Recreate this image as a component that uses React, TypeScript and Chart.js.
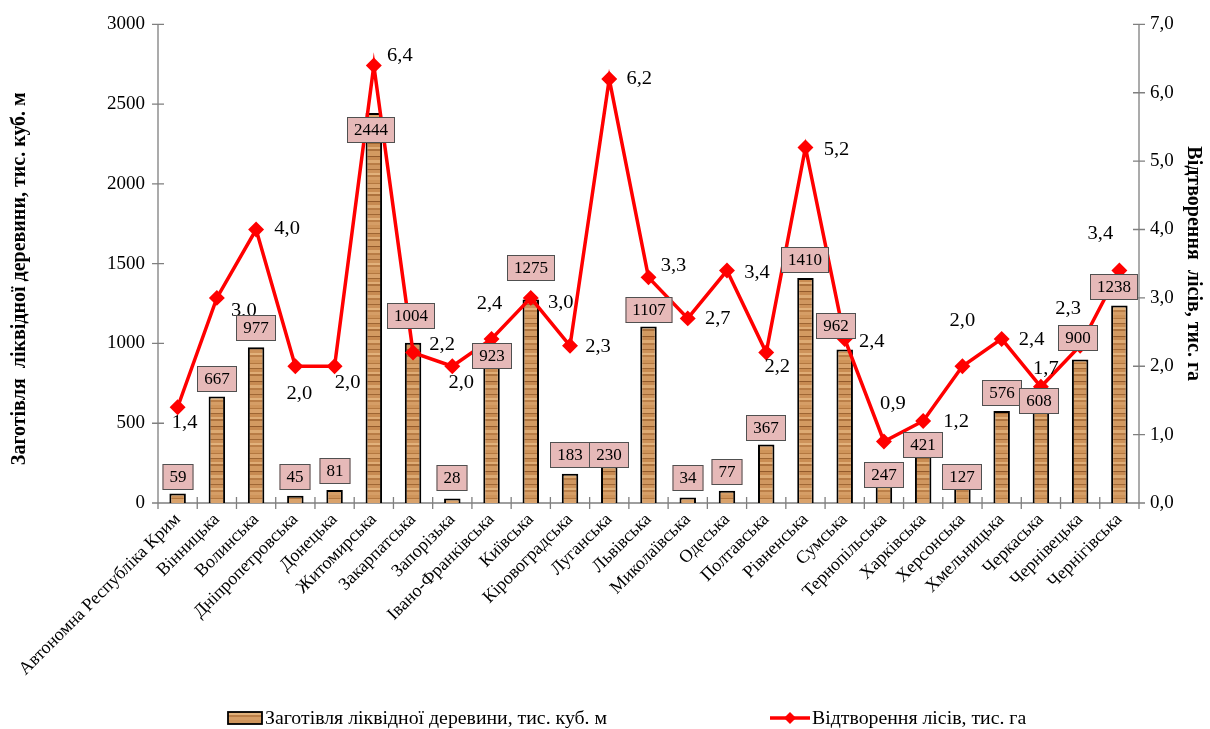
import React, { useEffect, useRef } from 'react';
import { Chart, registerables } from 'chart.js';

Chart.register(...registerables);

const categories = [
  'Автономна Республіка Крим', 'Вінницька', 'Волинська', 'Дніпропетровська', 'Донецька',
  'Житомирська', 'Закарпатська', 'Запорізька', 'Івано-Франківська', 'Київська',
  'Кіровоградська', 'Луганська', 'Львівська', 'Миколаївська', 'Одеська',
  'Полтавська', 'Рівненська', 'Сумська', 'Тернопільська', 'Харківська',
  'Херсонська', 'Хмельницька', 'Черкаська', 'Чернівецька', 'Чернігівська',
];

const harvest = [59, 667, 977, 45, 81, 2444, 1004, 28, 923, 1275, 183, 230, 1107, 34, 77, 367, 1410, 962, 247, 421, 127, 576, 608, 900, 1238];

const reforestation = [1.4, 3.0, 4.0, 2.0, 2.0, 6.4, 2.2, 2.0, 2.4, 3.0, 2.3, 6.2, 3.3, 2.7, 3.4, 2.2, 5.2, 2.4, 0.9, 1.2, 2.0, 2.4, 1.7, 2.3, 3.4];

const harvestLabel = 'Заготівля ліквідної деревини, тис. куб. м';
const reforestLabel = 'Відтворення лісів, тис. га';
const leftTitle = 'Заготівля  ліквідної деревини, тис. куб. м';
const rightTitle = 'Відтворення  лісів, тис. га';

// label placement (style only): offsets of the value labels from their marks
const lineLabelOffsets: [number, number][] = [
  [7, 16], [27, 13], [31, 0], [4, 28], [13, 17], [26, -9], [29, -8], [9, 17], [-2, -35], [30, 5],
  [28, 1], [30, 0], [25, -11], [30, 1], [30, 2], [11, 14], [31, 3], [27, 3], [9, -37], [33, 1],
  [0, -45], [30, 1], [5, -18], [-12, -37], [-19, -37],
];
const barLabelDx = [0, 0, 0, 0, 0, -3, -2, 0, 0, 0, 0, 0, 0, 0, 0, 0, 0, -9, 0, 0, 0, 0, -2, -2, -5];
const barLabelDy = [-17, -18, -19, -19, -19, 17, -27, -21, 0, -32, -19, -11, -16, -20, -19, -16, -18, -24, 11, 9, -6, -18, -5, -21, -18];

const woodBands: [string, number][] = [
  ['#cf945a', 3], ['#b3773f', 1], ['#d9a26b', 4], ['#9e6532', 1], ['#c98c52', 3], ['#e0ad76', 2],
  ['#ad723d', 2], ['#d39a61', 5], ['#935a2b', 1], ['#c78a51', 3], ['#ddaa73', 3], ['#b87c45', 2],
  ['#d09760', 4], ['#a06734', 1], ['#cd925a', 3], ['#e2b27c', 2], ['#bb7f48', 2], ['#d69e66', 3],
];

function makeWood(): CanvasPattern | string {
  const c = document.createElement('canvas');
  const total = woodBands.reduce((s, b) => s + b[1], 0);
  c.width = 4;
  c.height = total;
  const g = c.getContext('2d');
  if (!g) return '#c98c52';
  let y = 0;
  for (const [col, h] of woodBands) {
    g.fillStyle = col;
    g.fillRect(0, y, 4, h);
    y += h;
  }
  const p = g.createPattern(c, 'repeat');
  return p || '#c98c52';
}

const fmt1 = (v: number) => v.toFixed(1).replace('.', ',');
const SERIF = '"Liberation Serif", "Times New Roman", serif';

function stretchedText(ctx: CanvasRenderingContext2D, text: string, x: number, y: number, sx: number) {
  ctx.save();
  ctx.translate(x, y);
  ctx.scale(sx, 1);
  ctx.fillText(text, 0, 0);
  ctx.restore();
}

export default function App() {
  const ref = useRef<HTMLCanvasElement | null>(null);

  useEffect(() => {
    document.body.style.margin = '0';
    document.body.style.overflow = 'hidden';
    const canvas = ref.current;
    if (!canvas) return;
    const wood = makeWood();

    const axesPlugin = {
      id: 'axesCross',
      beforeDatasetsDraw(chart: any) {
        const { ctx, chartArea } = chart;
        const { left, right, top, bottom } = chartArea;
        const y = chart.scales.y;
        const y1 = chart.scales.y1;
        const x = chart.scales.x;
        ctx.save();
        ctx.strokeStyle = '#7f7f7f';
        ctx.lineWidth = 1.3;
        ctx.beginPath();
        ctx.moveTo(left, top); ctx.lineTo(left, bottom);
        ctx.moveTo(right, top); ctx.lineTo(right, bottom);
        ctx.moveTo(left, bottom); ctx.lineTo(right, bottom);
        y.ticks.forEach((_t: any, i: number) => {
          const py = y.getPixelForTick(i);
          ctx.moveTo(left - 6, py); ctx.lineTo(left + 6, py);
        });
        y1.ticks.forEach((_t: any, i: number) => {
          const py = y1.getPixelForTick(i);
          ctx.moveTo(right - 6, py); ctx.lineTo(right + 6, py);
        });
        const n = categories.length;
        const step = n > 1 ? x.getPixelForValue(1) - x.getPixelForValue(0) : right - left;
        for (let i = 0; i <= n; i++) {
          const px = x.getPixelForValue(0) - step / 2 + i * step;
          ctx.moveTo(px, bottom - 6); ctx.lineTo(px, bottom + 6);
        }
        ctx.stroke();
        ctx.restore();
      },
    };

    const labelsPlugin = {
      id: 'valueLabels',
      afterDatasetsDraw(chart: any) {
        const { ctx } = chart;
        const barMeta = chart.getDatasetMeta(0);
        const lineMeta = chart.getDatasetMeta(1);
        ctx.save();
        ctx.textAlign = 'center';
        ctx.textBaseline = 'middle';
        ctx.font = `19px ${SERIF}`;
        ctx.fillStyle = '#000';
        lineMeta.data.forEach((pt: any, i: number) => {
          const [dx, dy] = lineLabelOffsets[i];
          stretchedText(ctx, fmt1(reforestation[i]), pt.x + dx, pt.y + dy, 1.08);
        });
        ctx.font = `17px ${SERIF}`;
        barMeta.data.forEach((bar: any, i: number) => {
          const text = String(harvest[i]);
          const w = Math.round(ctx.measureText(text).width + 14);
          const h = 26;
          const cx = Math.round(bar.x + barLabelDx[i]);
          const cy = Math.round(bar.y + barLabelDy[i]);
          ctx.fillStyle = '#e6b9b8';
          ctx.fillRect(cx - w / 2, cy - h / 2, w, h);
          ctx.strokeStyle = '#505050';
          ctx.lineWidth = 1;
          ctx.strokeRect(cx - w / 2 + 0.5, cy - h / 2 + 0.5, w - 1, h - 1);
          ctx.fillStyle = '#000';
          ctx.fillText(text, cx, cy + 1);
        });
        ctx.restore();
      },
      afterDraw(chart: any) {
        const { ctx } = chart;
        ctx.save();
        const ly = 718;
        ctx.fillStyle = wood;
        ctx.fillRect(228, ly - 6, 34, 12);
        ctx.strokeStyle = '#000';
        ctx.lineWidth = 1.8;
        ctx.strokeRect(228, ly - 6, 34, 12);
        ctx.font = `18px ${SERIF}`;
        ctx.fillStyle = '#000';
        ctx.textAlign = 'left';
        ctx.textBaseline = 'middle';
        stretchedText(ctx, harvestLabel, 265, ly + 1, 1.1);
        ctx.strokeStyle = '#ff0000';
        ctx.lineWidth = 3.5;
        ctx.beginPath();
        ctx.moveTo(770, ly); ctx.lineTo(810, ly);
        ctx.stroke();
        ctx.fillStyle = '#ff0000';
        ctx.beginPath();
        ctx.moveTo(790, ly - 6); ctx.lineTo(796, ly); ctx.lineTo(790, ly + 6); ctx.lineTo(784, ly);
        ctx.closePath();
        ctx.fill();
        ctx.fillStyle = '#000';
        stretchedText(ctx, reforestLabel, 812, ly + 1, 1.1);
        ctx.restore();
      },
    };

    const chart = new Chart(canvas, {
      type: 'bar',
      data: {
        labels: categories,
        datasets: [
          {
            type: 'bar',
            label: harvestLabel,
            data: harvest,
            yAxisID: 'y',
            backgroundColor: wood as any,
            borderColor: '#000',
            borderWidth: 2,
            barPercentage: 0.42,
            categoryPercentage: 1,
            order: 2,
          },
          {
            type: 'line',
            label: reforestLabel,
            data: reforestation,
            yAxisID: 'y1',
            borderColor: '#ff0000',
            backgroundColor: '#ff0000',
            borderWidth: 3.5,
            pointStyle: 'rectRot',
            pointRadius: 5.5,
            pointBackgroundColor: '#ff0000',
            pointBorderColor: '#ff0000',
            tension: 0,
            order: 1,
          } as any,
        ],
      },
      options: {
        animation: false,
        responsive: false,
        maintainAspectRatio: false,
        devicePixelRatio: 1,
        layout: { padding: { left: 8, right: 5, top: 23, bottom: 40 } },
        plugins: {
          legend: { display: false },
          tooltip: { enabled: false },
        },
        scales: {
          x: {
            grid: { display: false, drawTicks: false },
            border: { display: false },
            ticks: {
              color: '#000',
              font: { family: SERIF, size: 18 },
              minRotation: 45,
              maxRotation: 45,
              autoSkip: false,
              padding: 6,
            },
            afterFit: (s: any) => { s.height = 186; },
          },
          y: {
            position: 'left',
            min: 0,
            max: 3000,
            grid: { display: false, drawTicks: false },
            border: { display: false },
            ticks: {
              stepSize: 500,
              color: '#000',
              font: { family: SERIF, size: 19 },
              padding: 13,
              callback: (v: any) => String(v),
            },
            title: {
              display: true,
              text: leftTitle + '      ',
              color: '#000',
              font: { family: SERIF, size: 20, weight: 'bold' },
              padding: 0,
            },
            afterFit: (s: any) => { s.width = 150; },
          },
          y1: {
            position: 'right',
            min: 0,
            max: 7,
            grid: { display: false, drawTicks: false },
            border: { display: false },
            ticks: {
              stepSize: 1,
              color: '#000',
              font: { family: SERIF, size: 19 },
              padding: 11,
              callback: (v: any) => fmt1(Number(v)),
            },
            title: {
              display: true,
              text: rightTitle,
              color: '#000',
              font: { family: SERIF, size: 20, weight: 'bold' },
              padding: 0,
            },
            afterFit: (s: any) => { s.width = 66; },
          },
        },
      },
      plugins: [axesPlugin, labelsPlugin],
    });

    return () => chart.destroy();
  }, []);

  return (
    <div style={{ width: 1210, height: 729, position: 'relative', background: '#fff' }}>
      <canvas ref={ref} width={1210} height={729} style={{ width: 1210, height: 729, display: 'block' }} />
    </div>
  );
}
